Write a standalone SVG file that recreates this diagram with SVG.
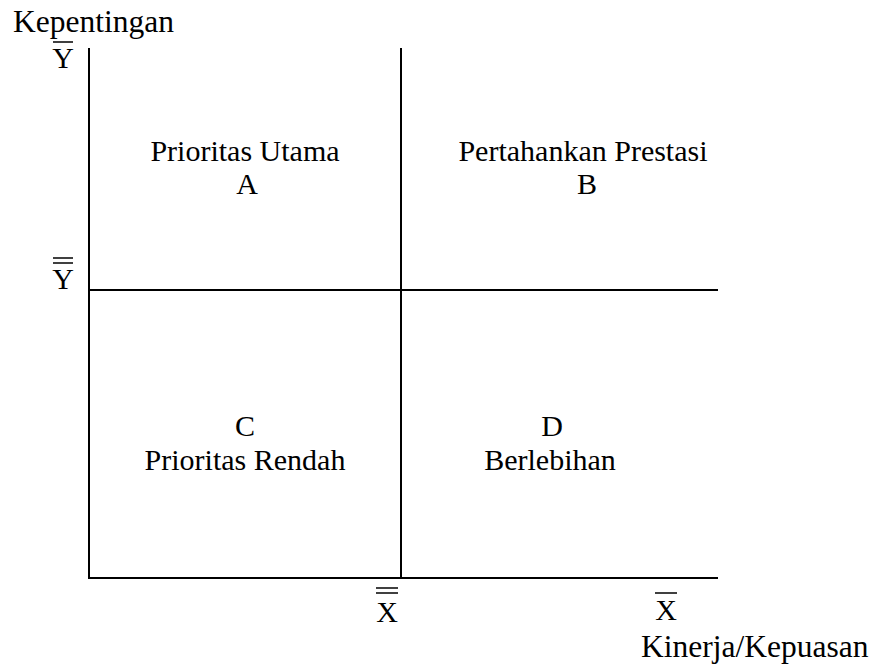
<svg xmlns="http://www.w3.org/2000/svg" width="870" height="666" viewBox="0 0 870 666">
<style>
text{font-family:"Liberation Serif","Times New Roman",serif;font-size:30px;fill:#000}
.c{text-anchor:middle}
.lab{font-size:31.5px}
.ax{stroke:#000;stroke-width:2;fill:none}
.bar{stroke:#000;stroke-width:1.5;fill:none}
</style>
<rect width="870" height="666" fill="#fff"/>
<g id="connectors">
<line class="ax" x1="89" y1="48" x2="89" y2="579"/>
<line class="ax" x1="88" y1="578" x2="718" y2="578"/>
<line class="ax" x1="401" y1="48" x2="401" y2="578"/>
<line class="ax" x1="89" y1="290" x2="718" y2="290"/>
</g>
<g id="axis-y-label"><text class="lab" x="13" y="32">Kepentingan</text></g>
<g id="y-bar"><line class="bar" x1="53" y1="42" x2="73" y2="42"/><text class="c" x="63" y="68">Y</text></g>
<g id="y-dbar"><line class="bar" x1="53" y1="258" x2="73" y2="258"/><line class="bar" x1="53" y1="263" x2="73" y2="263"/><text class="c" x="63" y="289">Y</text></g>
<g id="x-dbar"><line class="bar" x1="376" y1="588" x2="398" y2="588"/><line class="bar" x1="376" y1="593" x2="398" y2="593"/><text class="c" x="387" y="622">X</text></g>
<g id="x-bar"><line class="bar" x1="655" y1="593" x2="677" y2="593"/><text class="c" x="666" y="620">X</text></g>
<g id="axis-x-label"><text class="lab" x="641" y="657">Kinerja/Kepuasan</text></g>
<g id="quadrant-a"><text class="c" x="245" y="161">Prioritas Utama</text><text class="c" x="247" y="194">A</text></g>
<g id="quadrant-b"><text class="c" x="583" y="161">Pertahankan Prestasi</text><text class="c" x="587" y="194">B</text></g>
<g id="quadrant-c"><text class="c" x="245" y="436">C</text><text class="c" x="245" y="470">Prioritas Rendah</text></g>
<g id="quadrant-d"><text class="c" x="552" y="436">D</text><text class="c" x="550" y="470">Berlebihan</text></g>
</svg>
